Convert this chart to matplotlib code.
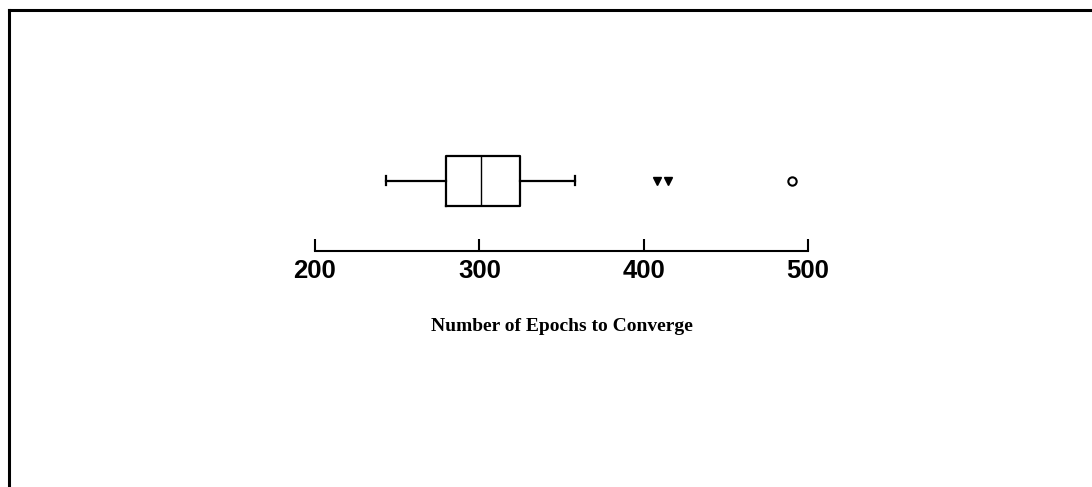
import matplotlib
matplotlib.use('Agg')
import matplotlib.pyplot as plt
from matplotlib.lines import Line2D

# five-number summary
whisker_low = 243
q1 = 280
median = 301
q3 = 325
whisker_high = 358
outliers = [408, 415]
extremes = [490]
tick_values = [200, 300, 400, 500]

fig = plt.figure(figsize=(10.92, 4.87), dpi=100)
ax = fig.add_axes([315/1092, 1-251/487, 493/1092, 130/487])

stats = [{'whislo': whisker_low, 'q1': q1, 'med': median, 'q3': q3,
          'whishi': whisker_high, 'fliers': []}]
ax.bxp(stats, positions=[0.54], widths=0.385, vert=False, showfliers=False,
       capwidths=0.07,
       boxprops=dict(color='black', linewidth=1.6),
       whiskerprops=dict(color='black', linewidth=1.6),
       capprops=dict(color='black', linewidth=1.6),
       medianprops=dict(color='black', linewidth=1.0))
ax.plot(outliers, [0.54]*len(outliers), 'v', color='black', markersize=6)
ax.plot(extremes, [0.54]*len(extremes), 'o', markerfacecolor='white',
        markeredgecolor='black', markersize=6, markeredgewidth=1.5)

ax.set_xlim(200, 500)
ax.set_ylim(0, 1)
for s in ['top', 'left', 'right']:
    ax.spines[s].set_visible(False)
ax.spines['bottom'].set_linewidth(1.5)
ax.set_yticks([])
ax.set_xticks(tick_values)
ax.set_xticklabels([str(t) for t in tick_values], family='Liberation Sans',
                   fontweight='bold', fontsize=18.5)
ax.tick_params(axis='x', direction='in', length=9, width=1.5, pad=6)
ax.set_xlabel('Number of Epochs to Converge', family='Liberation Serif',
              fontweight='bold', fontsize=14, labelpad=25)
ax.patch.set_alpha(0)

# frame lines at the left and top edge of the figure
fig.add_artist(Line2D([9/1092, 9/1092], [0, 1-10/487], color='black', linewidth=2.2))
fig.add_artist(Line2D([9/1092, 1], [1-10/487, 1-10/487], color='black', linewidth=2.2))

fig.savefig('out.png', dpi=100)
